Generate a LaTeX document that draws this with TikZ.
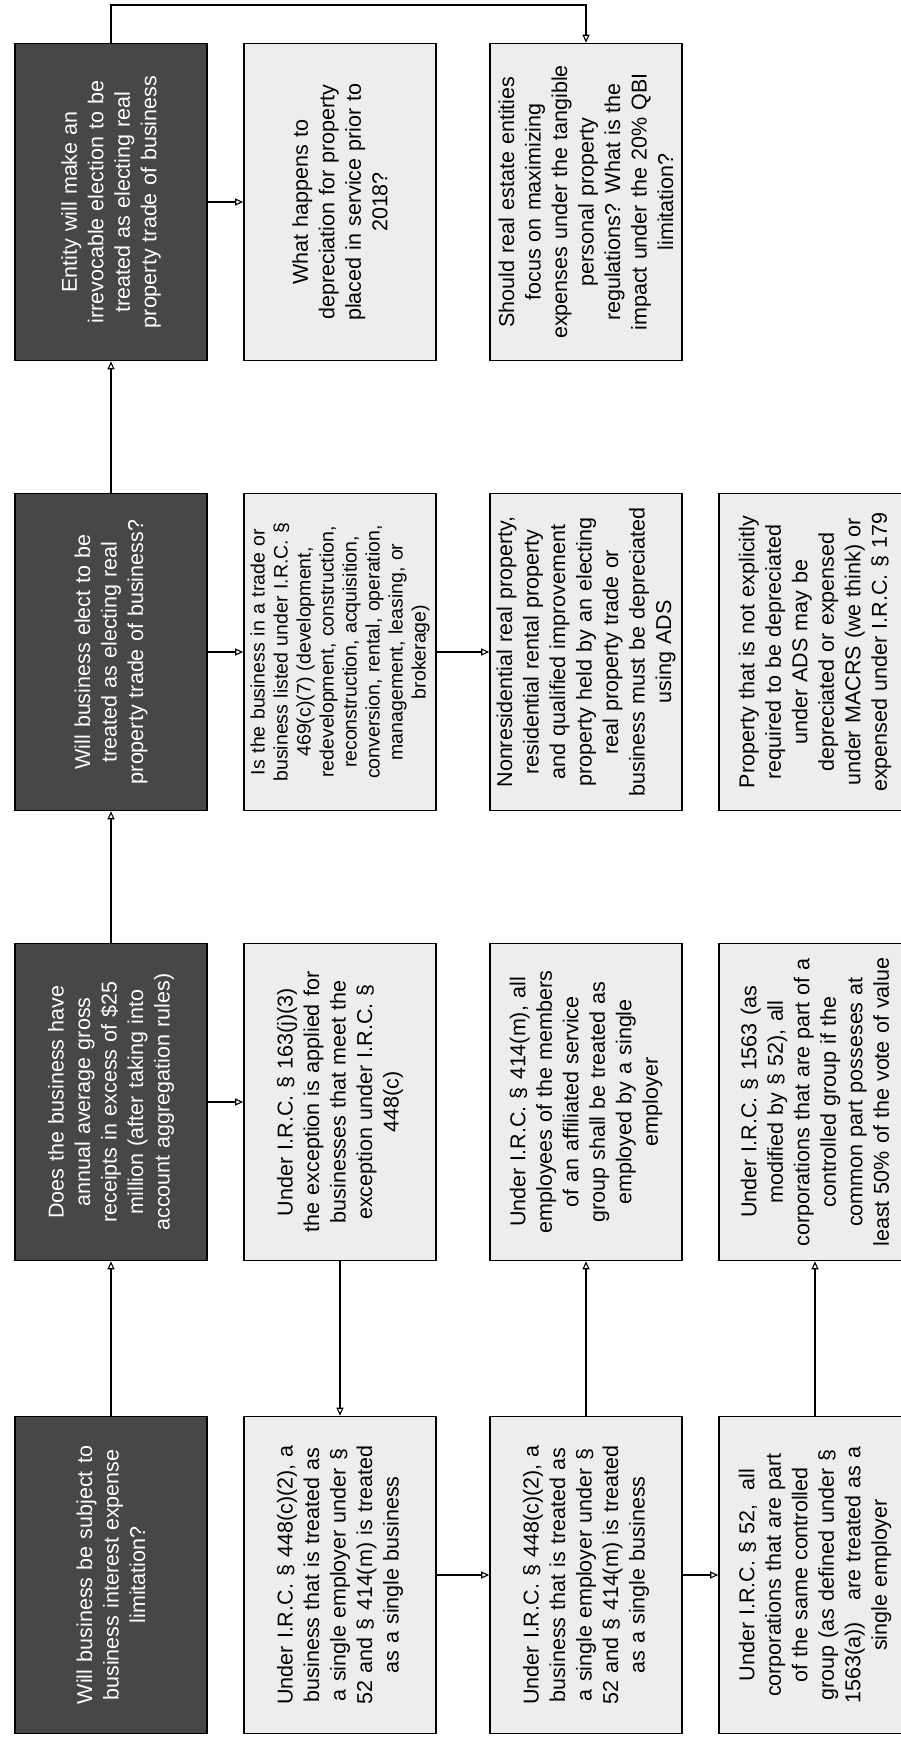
\documentclass[tikz,border=0pt]{standalone}
\usepackage{fontspec}
\setmainfont{Liberation Sans}
\usetikzlibrary{arrows.meta}
\begin{document}
\begin{tikzpicture}[x=1pt,y=-1pt,
  box/.style={draw=black, line width=1.6pt, rotate=90, minimum width=317pt, minimum height=192pt,
    inner sep=0pt, align=center, text width=308pt, font=\fontsize{21.5}{26.5}\selectfont},
  dark/.style={box, fill=black!72, text=white},
  light/.style={box, fill=black!7},
  small/.style={font=\fontsize{19.5}{23}\selectfont},
  conn/.style={line width=1.3pt, -{Triangle[open,length=8pt,width=7pt,line width=1.1pt]}}]
\useasboundingbox (0,0) rectangle (901,1739);

% row 1 (bottom)
\node[dark] (D1) at (111,1575) {Will business be subject to\\business interest expense\\limitation?};
\node[light] (B12) at (340,1575) {Under I.R.C. § 448(c)(2), a\\business that is treated as\\a single employer under §\\52 and § 414(m) is treated\\as a single business};
\node[light] (B13) at (586,1575) {Under I.R.C. § 448(c)(2), a\\business that is treated as\\a single employer under §\\52 and § 414(m) is treated\\as a single business};
\node[light] (B14) at (815,1575) {Under I.R.C. § 52,~ all\\corporations that are part\\of the same controlled\\group (as defined under §\\1563(a))~~ are treated as a\\single employer};

% row 2
\node[dark] (D2) at (111,1102) {Does the business have\\annual average gross\\receipts in excess of \$25\\million (after taking into\\account aggregation rules)};
\node[light] (B22) at (340,1102) {Under I.R.C. § 163(j)(3)\\the exception is applied for\\businesses that meet the\\exception under I.R.C. §\\448(c)};
\node[light] (B23) at (586,1102) {Under I.R.C. § 414(m), all\\employees of the members\\of an affiliated service\\group shall be treated as\\employed by a single\\employer};
\node[light] (B24) at (815,1102) {Under I.R.C. § 1563 (as\\modified by § 52), all\\corporations that are part of a\\controlled group if the\\common part posseses at\\least 50\% of the vote of value};

% row 3
\node[dark] (D3) at (111,652) {Will business elect to be\\treated as electing real\\property trade of business?};
\node[light,small] (B32) at (340,652) {Is the business in a trade or\\business listed under I.R.C. §\\469(c)(7) (development,\\redevelopment, construction,\\reconstruction, acquisition,\\conversion, rental, operation,\\management, leasing, or\\brokerage)};
\node[light] (B33) at (586,652) {Nonresidential real property,\\residential rental property\\and qualified improvement\\property held by an electing\\real property trade or\\business must be depreciated\\using ADS};
\node[light] (B34) at (815,652) {Property that is not explicitly\\required to be depreciated\\under ADS may be\\depreciated or expensed\\under MACRS (we think) or\\expensed under I.R.C. § 179};

% row 4 (top)
\node[dark] (D4) at (111,202) {Entity will make an\\irrevocable election to be\\treated as electing real\\property trade of business};
\node[light] (B42) at (340,202) {What happens to\\depreciation for property\\placed in service prior to\\2018?};
\node[light] (B43) at (586,202) {Should real estate entities\\focus on maximizing\\expenses under the tangible\\personal property\\regulations? What is the\\impact under the 20\% QBI\\limitation?};

% connectors
\draw[conn] (D1) -- (D2);
\draw[conn] (D2) -- (D3);
\draw[conn] (D3) -- (D4);
\draw[conn] (D2) -- (B22);
\draw[conn] (D3) -- (B32);
\draw[conn] (B32) -- (B33);
\draw[conn] (D4) -- (B42);
\coordinate (T) at (586,5);
\draw[conn] (D4) |- (T) -- (B43);
\draw[conn] (B22) -- (B12);
\draw[conn] (B12) -- (B13);
\draw[conn] (B13) -- (B23);
\draw[conn] (B13) -- (B14);
\draw[conn] (B14) -- (B24);
\end{tikzpicture}
\end{document}
